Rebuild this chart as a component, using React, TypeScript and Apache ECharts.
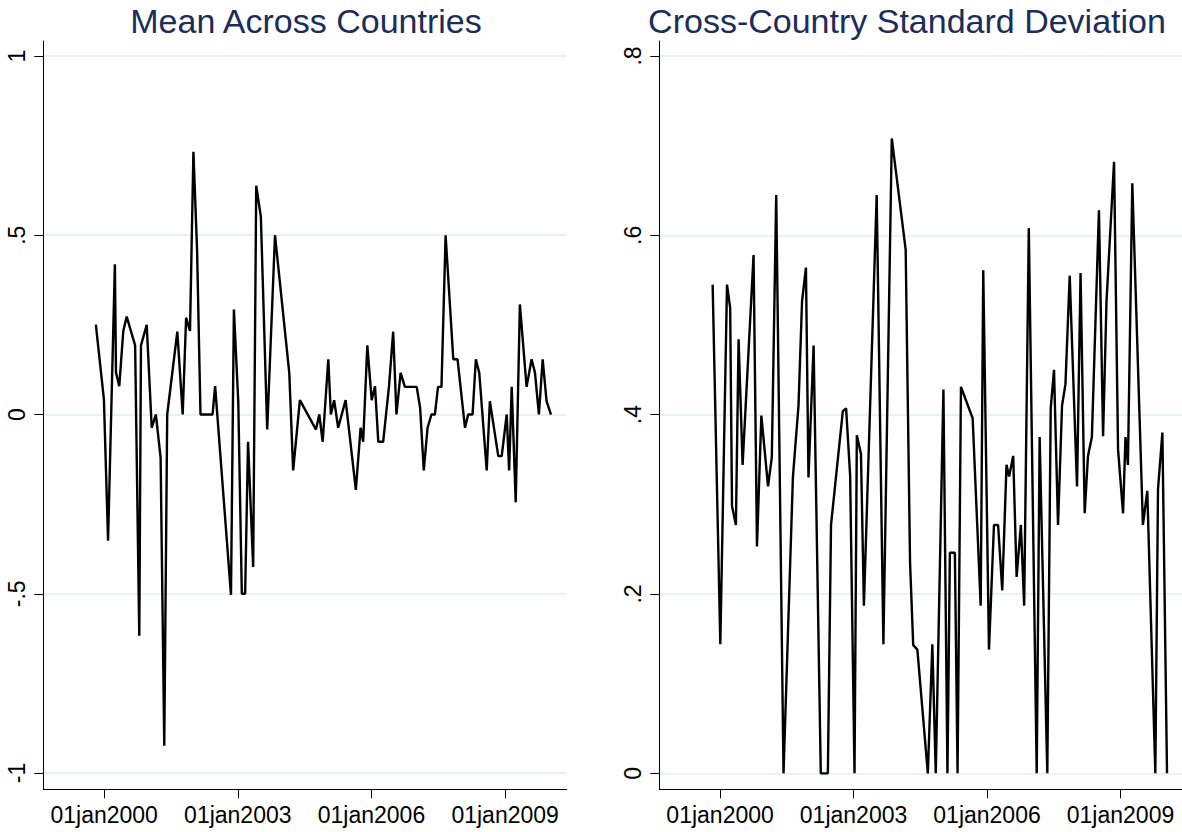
import React, { useEffect, useRef } from 'react';
import * as echarts from 'echarts';

// ---------- data ----------
const xTickDates = ['2000-01-01', '2003-01-01', '2006-01-01', '2009-01-01'];
const meanTicks = [-1, -0.5, 0, 0.5, 1];
const sdTicks = [0, 0.2, 0.4, 0.6, 0.8];

const meanDates = ['1999-10-25', '1999-12-30', '2000-02-02', '2000-03-29', '2000-04-07', '2000-05-04', '2000-06-06', '2000-07-04', '2000-09-11', '2000-10-15', '2000-10-29', '2000-12-15', '2001-01-25', '2001-02-28', '2001-04-08', '2001-05-08', '2001-06-01', '2001-08-23', '2001-10-06', '2001-11-03', '2001-12-05', '2002-01-02', '2002-02-01', '2002-03-01', '2002-06-08', '2002-06-29', '2002-11-06', '2002-11-30', '2003-01-05', '2003-02-03', '2003-03-02', '2003-03-26', '2003-05-07', '2003-06-01', '2003-07-09', '2003-08-30', '2003-11-02', '2004-02-27', '2004-03-30', '2004-05-24', '2004-10-03', '2004-10-30', '2004-11-27', '2005-01-12', '2005-02-02', '2005-03-01', '2005-04-03', '2005-06-03', '2005-08-26', '2005-10-04', '2005-10-25', '2005-11-28', '2006-01-03', '2006-01-30', '2006-02-26', '2006-04-07', '2006-05-25', '2006-06-28', '2006-07-25', '2006-08-28', '2006-10-02', '2007-01-07', '2007-02-04', '2007-03-06', '2007-04-06', '2007-05-08', '2007-06-05', '2007-07-01', '2007-07-29', '2007-09-01', '2007-11-03', '2007-12-08', '2008-02-07', '2008-03-04', '2008-04-09', '2008-05-06', '2008-06-03', '2008-08-03', '2008-08-29', '2008-11-06', '2008-12-04', '2009-01-14', '2009-02-03', '2009-02-24', '2009-03-29', '2009-05-02', '2009-06-26', '2009-08-06', '2009-09-03', '2009-10-05', '2009-11-05', '2009-12-07', '2010-01-12'];
const meanValues = [0.251, 0.042, -0.352, 0.419, 0.117, 0.079, 0.233, 0.273, 0.193, -0.617, 0.193, 0.25, -0.037, 0, -0.12, -0.924, 0, 0.231, 0, 0.27, 0.233, 0.733, 0.46, 0, 0, 0.079, -0.503, 0.293, 0.033, -0.5, -0.5, -0.076, -0.425, 0.638, 0.552, -0.042, 0.5, 0.116, -0.156, 0.04, -0.042, 0, -0.076, 0.154, 0, 0.04, -0.037, 0.04, -0.21, -0.037, -0.076, 0.193, 0.04, 0.079, -0.076, -0.076, 0.079, 0.231, 0, 0.116, 0.077, 0.077, 0.019, -0.156, -0.037, 0, 0, 0.077, 0.077, 0.5, 0.154, 0.154, -0.037, 0, 0, 0.154, 0.116, -0.156, 0.037, -0.116, -0.116, 0, -0.156, 0.077, -0.245, 0.307, 0.077, 0.154, 0.116, 0, 0.154, 0.037, 0];

const sdDates = ['1999-11-01', '2000-01-03', '2000-02-27', '2000-03-24', '2000-04-08', '2000-05-10', '2000-06-01', '2000-07-04', '2000-10-02', '2000-10-30', '2000-12-05', '2001-01-29', '2001-03-01', '2001-04-06', '2001-06-05', '2001-08-21', '2001-10-06', '2001-11-04', '2001-12-06', '2001-12-27', '2002-02-07', '2002-04-07', '2002-06-04', '2002-06-30', '2002-10-05', '2002-11-01', '2002-12-04', '2003-01-09', '2003-01-28', '2003-03-03', '2003-03-27', '2003-07-10', '2003-09-03', '2003-11-11', '2004-03-04', '2004-04-09', '2004-05-05', '2004-06-08', '2004-09-02', '2004-10-09', '2004-11-06', '2005-01-08', '2005-02-10', '2005-03-02', '2005-04-12', '2005-05-04', '2005-06-01', '2005-09-05', '2005-11-10', '2005-12-01', '2006-01-17', '2006-02-27', '2006-04-02', '2006-05-06', '2006-06-10', '2006-07-01', '2006-08-04', '2006-09-01', '2006-10-06', '2006-11-02', '2006-12-10', '2007-02-13', '2007-03-09', '2007-05-11', '2007-06-08', '2007-07-05', '2007-08-07', '2007-09-09', '2007-10-07', '2007-11-11', '2008-01-10', '2008-02-08', '2008-03-13', '2008-04-09', '2008-05-11', '2008-07-08', '2008-08-11', '2008-09-08', '2008-11-09', '2008-12-12', '2009-01-22', '2009-02-11', '2009-03-03', '2009-04-08', '2009-07-04', '2009-08-09', '2009-10-14', '2009-11-05', '2009-12-11', '2010-01-18'];
const sdValues = [0.545, 0.144, 0.545, 0.519, 0.298, 0.277, 0.484, 0.344, 0.578, 0.253, 0.399, 0.32, 0.353, 0.645, 0, 0.33, 0.41, 0.526, 0.564, 0.33, 0.477, 0, 0, 0.277, 0.404, 0.407, 0.332, 0, 0.377, 0.356, 0.187, 0.645, 0.144, 0.708, 0.584, 0.235, 0.143, 0.138, 0, 0.144, 0, 0.428, 0, 0.246, 0.246, 0, 0.431, 0.396, 0.187, 0.561, 0.138, 0.277, 0.277, 0.204, 0.344, 0.331, 0.354, 0.219, 0.277, 0.187, 0.608, 0, 0.375, 0, 0.407, 0.45, 0.277, 0.41, 0.434, 0.555, 0.32, 0.558, 0.29, 0.354, 0.375, 0.628, 0.376, 0.526, 0.682, 0.361, 0.29, 0.375, 0.344, 0.658, 0.277, 0.315, 0, 0.317, 0.38, 0];

const titles = ['Mean Across Countries', 'Cross-Country Standard Deviation'];

// ---------- helpers ----------
const MONTHS = ['jan', 'feb', 'mar', 'apr', 'may', 'jun', 'jul', 'aug', 'sep', 'oct', 'nov', 'dec'];
// Stata-style day number (days since 01jan1960)
const toDay = (s: string) => {
  const [y, m, d] = s.split('-').map(Number);
  return Date.UTC(y, m - 1, d) / 86400000 + 3653;
};
const fmtDay = (v: number) => {
  const dt = new Date((Math.round(v) - 3653) * 86400000);
  return String(dt.getUTCDate()).padStart(2, '0') + MONTHS[dt.getUTCMonth()] + dt.getUTCFullYear();
};
const fmtNum = (v: number) => {
  if (Math.abs(v) < 1e-9) return '0';
  const s = String(Math.round(v * 100) / 100);
  return s.replace(/^(-?)0\./, '$1.');
};

const FONT = "'Liberation Sans', Arial, Helvetica, sans-serif";
const X_MIN = 14111;
const X_MAX = 18403;

export default function App() {
  const ref = useRef<HTMLDivElement>(null);

  useEffect(() => {
    document.body.style.margin = '0';
    if (!ref.current) return;
    const chart = echarts.init(ref.current, undefined, { renderer: 'svg' });
    const xTicks = xTickDates.map(toDay);

    const makeX = (gridIndex: number) => ({
      type: 'value',
      gridIndex,
      min: X_MIN,
      max: X_MAX,
      axisLine: { show: true, onZero: false, lineStyle: { color: '#000', width: 1 } },
      axisTick: { show: true, length: 9, customValues: xTicks, lineStyle: { color: '#000', width: 1 } },
      axisLabel: {
        customValues: xTicks,
        formatter: fmtDay,
        color: '#000',
        fontSize: 23,
        fontFamily: FONT,
        margin: 14,
      },
      splitLine: { show: false },
    });

    const makeY = (gridIndex: number, min: number, max: number, ticks: number[]) => ({
      type: 'value',
      gridIndex,
      min,
      max,
      axisLine: { show: true, onZero: false, lineStyle: { color: '#000', width: 1 } },
      axisTick: { show: true, length: 9, customValues: ticks, lineStyle: { color: '#000', width: 1 } },
      axisLabel: {
        customValues: ticks,
        formatter: fmtNum,
        rotate: 90,
        color: '#000',
        fontSize: 23,
        fontFamily: FONT,
        margin: 15,
      },
      splitLine: { show: true, lineStyle: { color: '#e3ecee', width: 1.5 } },
    });

    const option = {
      animation: false,
      backgroundColor: '#ffffff',
      grid: [
        { left: 43.3, top: 41, width: 523.4, height: 748.3, containLabel: false },
        { left: 659.3, top: 41, width: 523.4, height: 748.3, containLabel: false },
      ],
      xAxis: [makeX(0), makeX(1)],
      yAxis: [makeY(0, -1.0454, 1.0418, meanTicks), makeY(1, -0.0178, 0.8167, sdTicks)],
      graphic: [
        {
          type: 'text',
          x: 306,
          y: 4,
          style: { text: titles[0], fill: '#1c2d58', font: `34px ${FONT}`, textAlign: 'center', textVerticalAlign: 'top' },
        },
        {
          type: 'text',
          x: 907,
          y: 4,
          style: { text: titles[1], fill: '#1c2d58', font: `34px ${FONT}`, textAlign: 'center', textVerticalAlign: 'top' },
        },
      ],
      series: [
        {
          type: 'line',
          xAxisIndex: 0,
          yAxisIndex: 0,
          showSymbol: false,
          symbol: 'none',
          lineStyle: { color: '#000', width: 2.4 },
          data: meanDates.map((d, i) => [toDay(d), meanValues[i]]),
        },
        {
          type: 'line',
          xAxisIndex: 1,
          yAxisIndex: 1,
          showSymbol: false,
          symbol: 'none',
          lineStyle: { color: '#000', width: 2.4 },
          data: sdDates.map((d, i) => [toDay(d), sdValues[i]]),
        },
      ],
    };
    chart.setOption(option as any);
    return () => chart.dispose();
  }, []);

  return <div ref={ref} style={{ position: 'absolute', left: 0, top: 0, width: 1182, height: 832 }} />;
}
